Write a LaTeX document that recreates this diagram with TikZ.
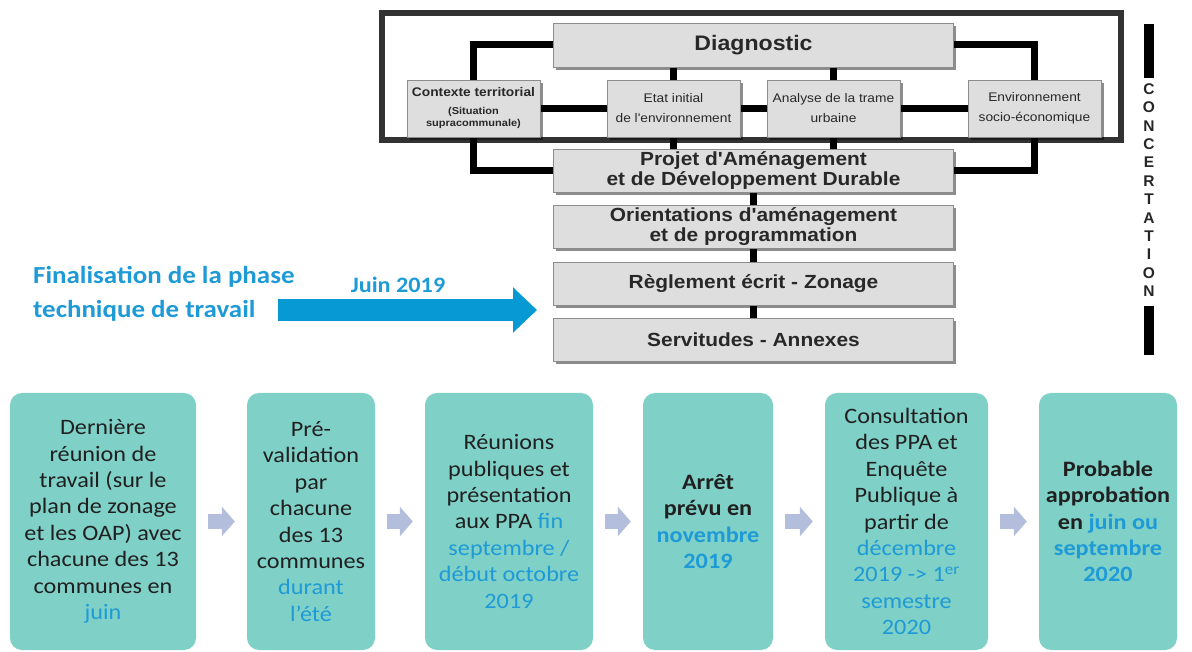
\documentclass[tikz,border=0pt]{standalone}
\usepackage{fontspec}
\usetikzlibrary{arrows.meta,shadows}
\newfontfamily\calib[FakeStretch=1.1]{Carlito}
\newfontfamily\geo[FakeStretch=1.1]{Liberation Sans}
\newfontfamily\geotall{Liberation Sans}
\definecolor{ink}{RGB}{32,32,32}
\definecolor{panelink}{RGB}{40,40,40}
\definecolor{panelfill}{RGB}{222,222,222}
\definecolor{boxteal}{RGB}{127,208,199}
\definecolor{bluetxt}{RGB}{30,154,214}
\definecolor{bigblue}{RGB}{6,153,211}
\definecolor{stepgrey}{RGB}{178,190,220}
\definecolor{framegrey}{RGB}{50,50,50}
\newcommand\blu[1]{\textcolor{bluetxt}{#1}}
\pgfdeclarelayer{bg}
\pgfsetlayers{bg,main}
\tikzset{
  panel/.style={draw=black!45, line width=0.8pt, fill=panelfill,
    drop shadow={shadow xshift=2.5pt, shadow yshift=-3pt, fill=black, opacity=0.45},
    inner sep=0pt, align=center, text=panelink},
  bigpanel/.style={panel, minimum width=400, minimum height=43,
    font={\geo\bfseries\fontsize{19}{19.5}\selectfont}},
  smallpanel/.style={panel, minimum width=133, minimum height=57,
    font={\geo\fontsize{12.5}{20}\selectfont}},
  link/.style={line width=7pt, black},
  stage/.style={fill=boxteal, rounded corners=12pt, minimum height=257,
    inner sep=0pt, align=center, text=ink,
    font={\calib\fontsize{22}{26.4}\selectfont}},
  steparrow/.style={line width=15pt, stepgrey, -{Triangle[length=13pt,width=29pt]}},
  bigarrow/.style={line width=22pt, bigblue, -{Triangle[length=24pt,width=44pt]}},
}
\begin{document}
\begin{tikzpicture}[x=1pt,y=-1pt]
\useasboundingbox (0,0) rectangle (1192,652);

% --- document structure panels ---
\node[panel, minimum width=400, minimum height=44,
      font={\geo\bfseries\fontsize{21}{22}\selectfont}] (diag) at (753.5,45) {Diagnostic};
\node[smallpanel, font={\geo\bfseries\fontsize{10}{12}\selectfont}] (ctx) at (473.5,108.5)
  {\fontsize{12.5}{12}\selectfont Contexte territorial\\[6pt]
   (Situation\\supracommunale)};
\node[smallpanel] (etat) at (673.5,108.5) {Etat initial\\de l'environnement};
\node[smallpanel] (ana) at (833.5,108.5) {Analyse de la trame\\urbaine};
\node[smallpanel] (env) at (1034.5,108.5) {Environnement\\socio-économique};
\node[bigpanel] (padd) at (753.5,170.5) {Projet d'Aménagement\\et de Développement Durable};
\node[bigpanel] (oap) at (753.5,226.5) {Orientations d'aménagement\\et de programmation};
\node[bigpanel] (reg) at (753.5,283.5) {Règlement écrit - Zonage};
\node[bigpanel] (serv) at (753.5,339.5) {Servitudes - Annexes};

\begin{pgfonlayer}{bg}
  % frame around the diagnostic block
  \draw[framegrey, line width=5.5pt] (382,13) rectangle (1121,140);
  % links between panels
  \draw[link] (diag.west) -| (ctx.north);
  \draw[link] (diag.east) -| (env.north);
  \draw[link] (diag.south -| etat.north) -- (etat.north);
  \draw[link] (diag.south -| ana.north) -- (ana.north);
  \draw[link] (ctx.east) -- (etat.west);
  \draw[link] (etat.east) -- (ana.west);
  \draw[link] (ana.east) -- (env.west);
  \draw[link] (ctx.south) |- (padd.west);
  \draw[link] (env.south) |- (padd.east);
  \draw[link] (etat.south) -- (etat.south |- padd.north);
  \draw[link] (ana.south) -- (ana.south |- padd.north);
  \draw[link] (padd.south) -- (oap.north);
  \draw[link] (oap.south) -- (reg.north);
  \draw[link] (reg.south) -- (serv.north);
\end{pgfonlayer}

% --- concertation column ---
\node[font={\geotall\bfseries\fontsize{15.5}{18.4}\selectfont}, align=center,
      inner sep=0pt, text=black!85] (conc) at (1149,190)
  {C\\O\\N\\C\\E\\R\\T\\A\\T\\I\\O\\N};
\fill[black] (1144,24) rectangle (1154,78);
\fill[black] (1144,306) rectangle (1154,355);

% --- technical phase milestone ---
\node[font={\calib\bfseries\fontsize{24.5}{34}\selectfont}, text=bluetxt,
      align=left, anchor=west, inner sep=0pt] (fin) at (33,294)
  {Finalisation de la phase\\technique de travail};
\node[font={\calib\bfseries\fontsize{22}{24}\selectfont}, text=bluetxt,
      inner sep=0pt] (juin) at (398,285) {Juin 2019};
\coordinate (a0) at (278,310);
\coordinate (a1) at (537,310);
\draw[bigarrow] (a0) -- (a1);

% --- timeline stages ---
\node[stage, minimum width=186] (s1) at (103,521.5)
  {Dernière\\réunion de\\travail (sur le\\plan de zonage\\et les OAP) avec\\chacune des 13\\communes en\\\blu{juin}};
\node[stage, minimum width=128] (s2) at (311,521.5)
  {Pré-\\validation\\par\\chacune\\des 13\\communes\\\blu{durant}\\\blu{l’été}};
\node[stage, minimum width=168] (s3) at (509,521.5)
  {Réunions\\publiques et\\présentation\\aux PPA \blu{fin}\\\blu{septembre /}\\\blu{début octobre}\\\blu{2019}};
\node[stage, minimum width=130, font={\calib\bfseries\fontsize{22}{26.4}\selectfont}] (s4) at (708,521.5)
  {Arrêt\\prévu en\\\blu{novembre}\\\blu{2019}};
\node[stage, minimum width=163] (s5) at (906.5,521.5)
  {Consultation\\des PPA et\\Enquête\\Publique à\\partir de\\\blu{décembre}\\\blu{2019 -> 1\textsuperscript{er}}\\\blu{semestre}\\\blu{2020}};
\node[stage, minimum width=138, font={\calib\bfseries\fontsize{22}{26.4}\selectfont}] (s6) at (1108,521.5)
  {Probable\\approbation\\en \blu{juin ou}\\\blu{septembre}\\\blu{2020}};

\draw[steparrow] ([xshift=12pt]s1.east) -- ([xshift=-12pt]s2.west);
\draw[steparrow] ([xshift=12pt]s2.east) -- ([xshift=-12pt]s3.west);
\draw[steparrow] ([xshift=12pt]s3.east) -- ([xshift=-12pt]s4.west);
\draw[steparrow] ([xshift=12pt]s4.east) -- ([xshift=-12pt]s5.west);
\draw[steparrow] ([xshift=12pt]s5.east) -- ([xshift=-12pt]s6.west);
\end{tikzpicture}
\end{document}
